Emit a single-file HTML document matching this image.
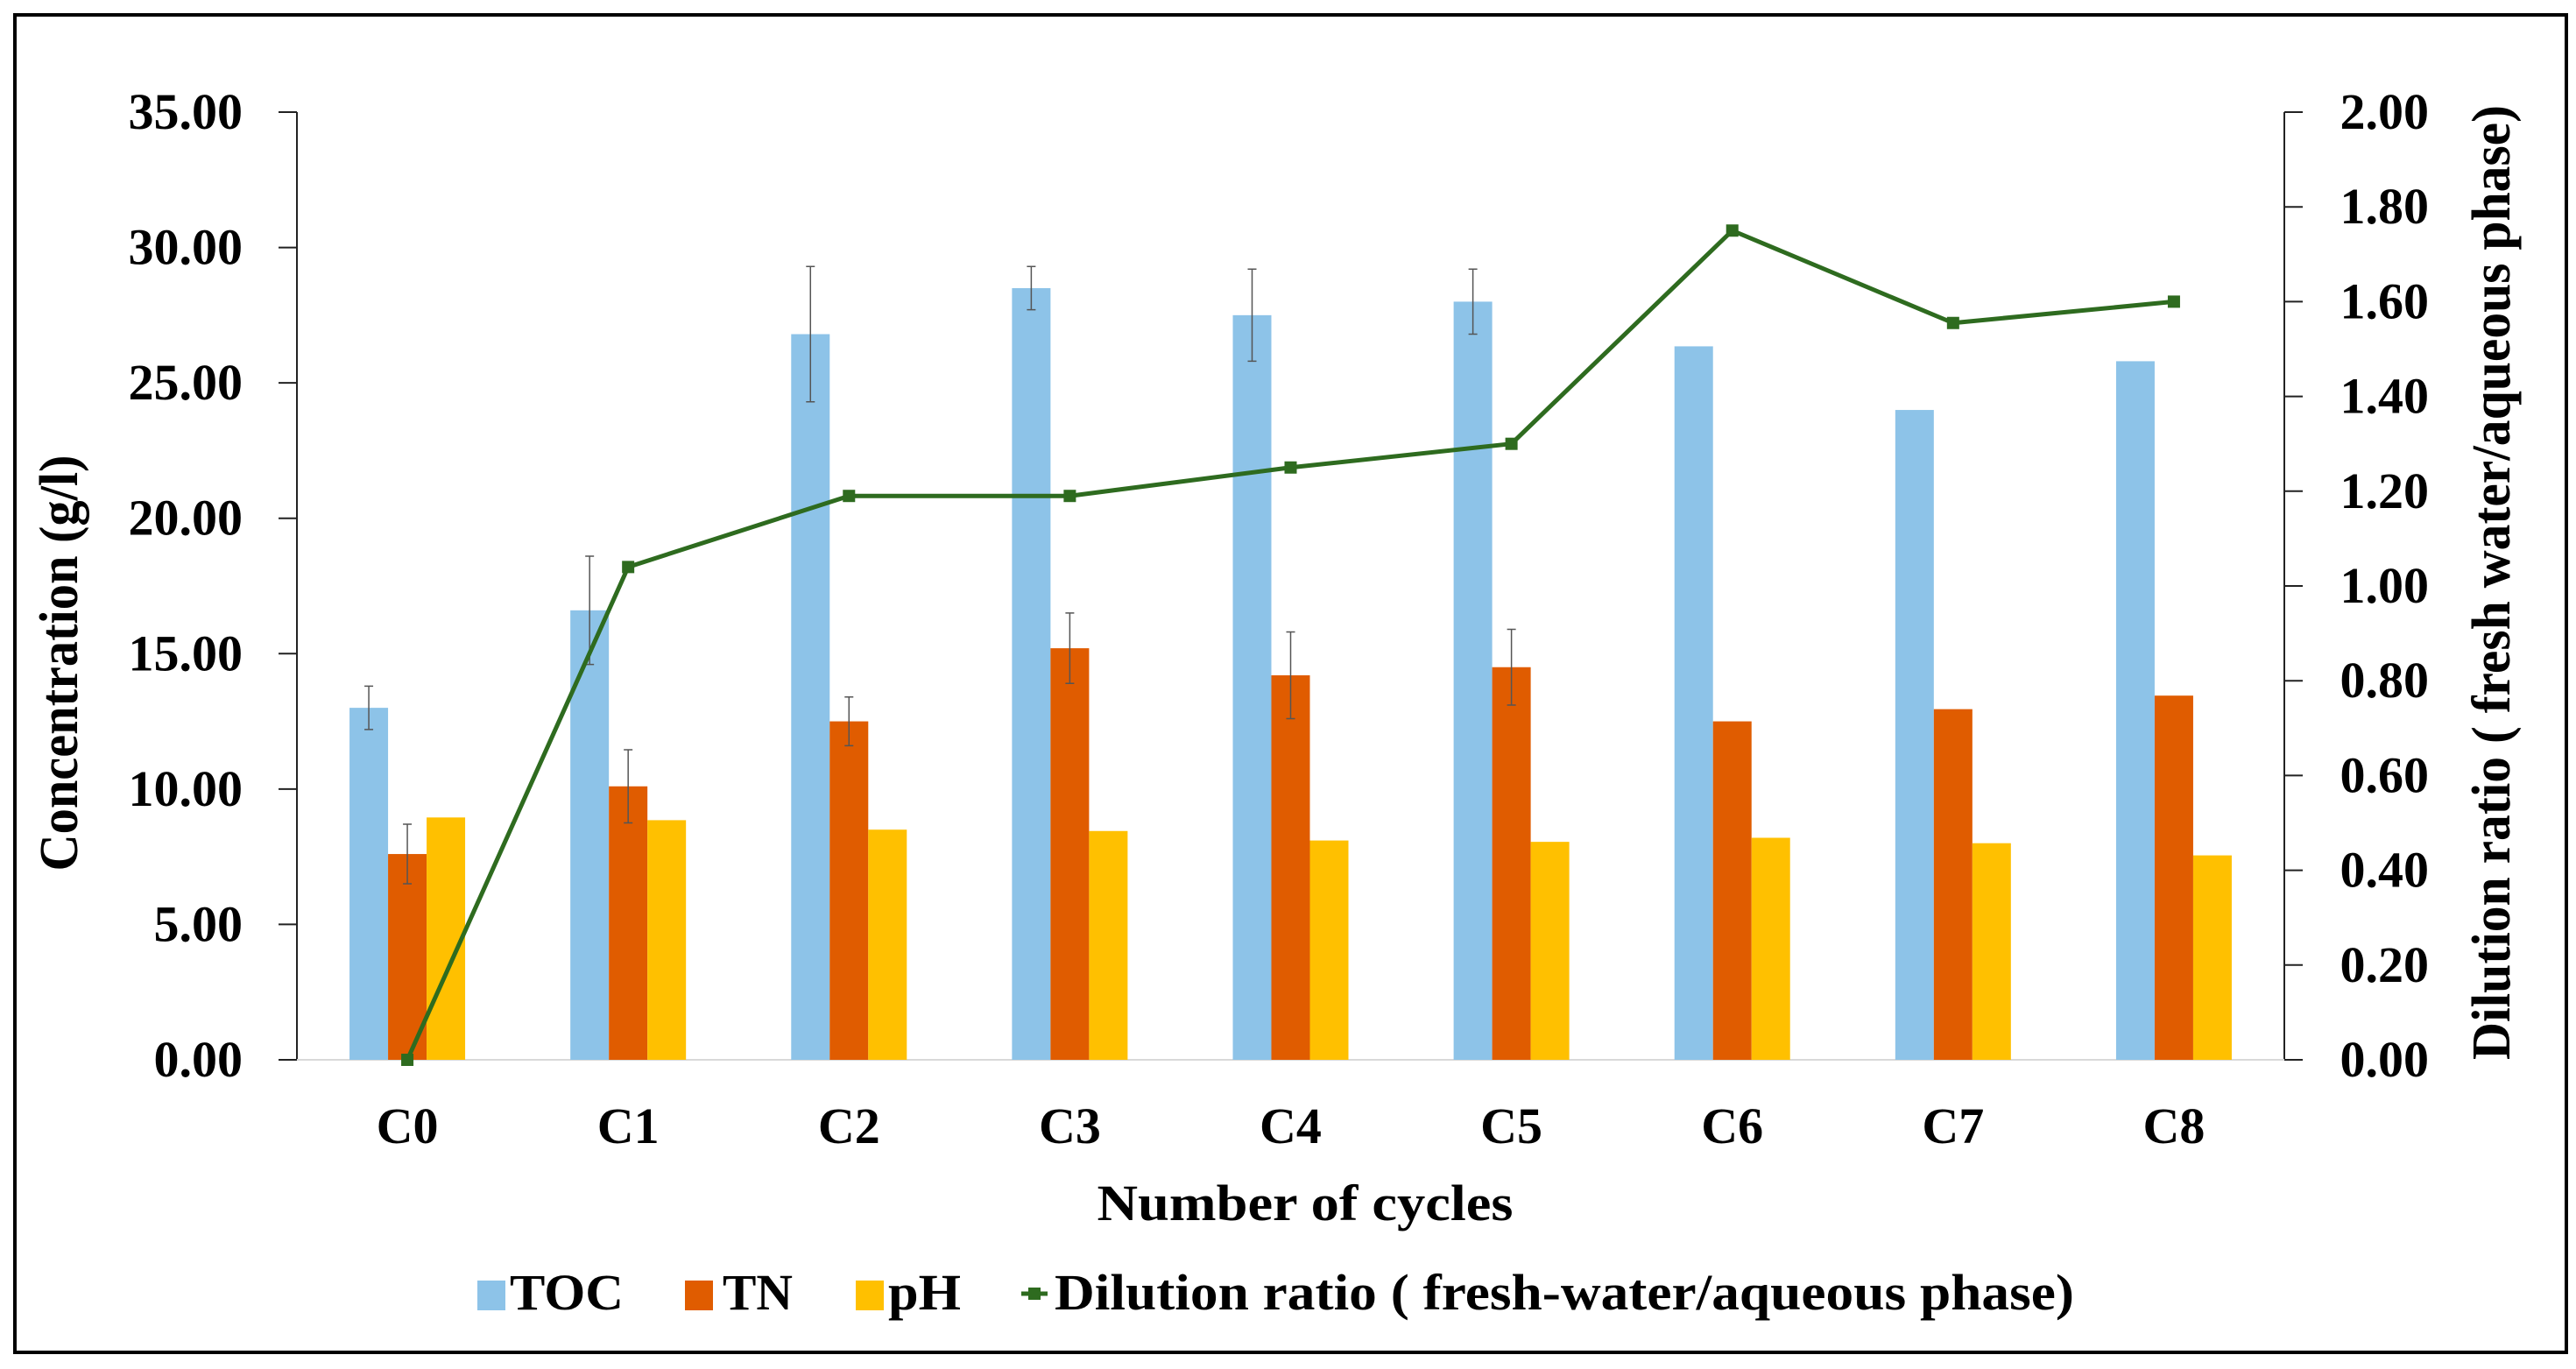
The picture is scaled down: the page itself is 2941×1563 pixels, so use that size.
<!DOCTYPE html>
<html><head><meta charset="utf-8"><style>
html,body{margin:0;padding:0;background:#fff;}
svg text{font-family:"Liberation Serif",serif;font-weight:bold;fill:#000;}
</style></head><body>
<svg id="chart" width="2941" height="1558" viewBox="0 0 2941 1558" xmlns="http://www.w3.org/2000/svg">
<rect x="17" y="17" width="2913" height="1527" fill="#fff" stroke="#000" stroke-width="4"/>
<g id="plot"></g>
<text transform="translate(88,757) rotate(-90)" text-anchor="middle" font-size="62" textLength="475" lengthAdjust="spacingAndGlyphs">Concentration (g/l)</text>
<text transform="translate(2865,665) rotate(-90)" text-anchor="middle" font-size="62" textLength="1090" lengthAdjust="spacingAndGlyphs">Dilution ratio ( fresh water/aqueous phase)</text>
<text x="1490" y="1393" text-anchor="middle" font-size="58" textLength="475" lengthAdjust="spacingAndGlyphs">Number of cycles</text>
<g>
<rect x="545" y="1462" width="32" height="34" fill="#8dc3e8"/>
<text x="582" y="1495" font-size="58" textLength="130" lengthAdjust="spacingAndGlyphs">TOC</text>
<rect x="782" y="1462" width="32" height="34" fill="#e05c00"/>
<text x="825" y="1495" font-size="58" textLength="80" lengthAdjust="spacingAndGlyphs">TN</text>
<rect x="977" y="1462" width="32" height="34" fill="#ffc000"/>
<text x="1014" y="1495" font-size="58" textLength="83" lengthAdjust="spacingAndGlyphs">pH</text>
<line x1="1166" y1="1477" x2="1196" y2="1477" stroke="#2e6b1f" stroke-width="5"/>
<rect x="1174" y="1470" width="14" height="14" fill="#2e6b1f"/>
<text x="1204" y="1495" font-size="58" textLength="1164" lengthAdjust="spacingAndGlyphs">Dilution ratio ( fresh-water/aqueous phase)</text>
</g>
</svg>
<script>
const categories = ["C0","C1","C2","C3","C4","C5","C6","C7","C8"];
const tocValues = [13.0, 16.6, 26.8, 28.5, 27.5, 28.0, 26.35, 24.0, 25.8];
const tocErrors = [0.8, 2.0, 2.5, 0.8, 1.7, 1.2, 0, 0, 0];
const tnValues = [7.6, 10.1, 12.5, 15.2, 14.2, 14.5, 12.5, 12.95, 13.45];
const tnErrors = [1.1, 1.35, 0.9, 1.3, 1.6, 1.4, 0, 0, 0];
const phValues = [8.95, 8.85, 8.5, 8.45, 8.1, 8.05, 8.2, 8.0, 7.55];
const dilutionValues = [0, 1.04, 1.19, 1.19, 1.25, 1.30, 1.75, 1.555, 1.60];
const leftTicks = [0, 5, 10, 15, 20, 25, 30, 35];
const rightTicks = [0, 0.2, 0.4, 0.6, 0.8, 1.0, 1.2, 1.4, 1.6, 1.8, 2.0];

const NS = "http://www.w3.org/2000/svg";
const L = 339, R = 2608, T = 128, B = 1210;
const yL = v => B - (v / 35) * (B - T);
const yR = v => B - (v / 2) * (B - T);
const band = (R - L) / categories.length;
const xC = i => L + band * (i + 0.5);
const barW = 44;
const g = document.getElementById('plot');
function mk(tag, attrs, parent) {
  const e = document.createElementNS(NS, tag);
  for (const k in attrs) e.setAttribute(k, attrs[k]);
  (parent || g).appendChild(e);
  return e;
}
let e = mk('line', {x1: L, y1: T, x2: L, y2: B, stroke: '#222', 'stroke-width': 2});


e = mk('line', {x1: R, y1: T, x2: R, y2: B, stroke: '#222', 'stroke-width': 2});


e = mk('line', {x1: L, y1: B, x2: R, y2: B, stroke: '#d9d9d9', 'stroke-width': 2});


leftTicks.forEach(v => {
  const y = yL(v);
  let t = mk('line', {x1: L - 21, y1: y, x2: L, y2: y, stroke: '#222', 'stroke-width': 2});
  
  
  t = mk('text', {x: 277, y: y + 19, 'text-anchor': 'end', 'font-size': 58});
  t.textContent = v.toFixed(2);
  
  
});
rightTicks.forEach(v => {
  const y = yR(v);
  let t = mk('line', {x1: R, y1: y, x2: R + 21, y2: y, stroke: '#222', 'stroke-width': 2});
  
  
  t = mk('text', {x: 2773, y: y + 19, 'text-anchor': 'end', 'font-size': 58});
  t.textContent = v.toFixed(2);
  
  
});
const series = [
  {vals: tocValues, err: tocErrors, color: '#8dc3e8', name: 'toc'},
  {vals: tnValues, err: tnErrors, color: '#e05c00', name: 'tn'},
  {vals: phValues, err: null, color: '#ffc000', name: 'ph'}
];
categories.forEach((c, i) => {
  series.forEach((s, k) => {
    const x = xC(i) + (k - 1.5) * barW;
    const y = yL(s.vals[i]);
    const b = mk('rect', {x: x, y: y, width: barW, height: B - y, fill: s.color});
    
    
    if (s.err && s.err[i] > 0) {
      const cx = x + barW / 2, y1 = yL(s.vals[i] + s.err[i]), y2 = yL(s.vals[i] - s.err[i]);
      const eb = mk('path', {d: `M${cx},${y1}V${y2}M${cx-5},${y1}H${cx+5}M${cx-5},${y2}H${cx+5}`, stroke: '#555', 'stroke-width': 1.5, fill: 'none'});
      
      
    }
  });
  const t = mk('text', {x: xC(i), y: 1305, 'text-anchor': 'middle', 'font-size': 58});
  t.textContent = c;
  
  
});
const pts = dilutionValues.map((v, i) => xC(i) + ',' + yR(v)).join(' ');
const ln = mk('polyline', {points: pts, fill: 'none', stroke: '#2e6b1f', 'stroke-width': 5, 'stroke-linejoin': 'round'});


dilutionValues.forEach((v, i) => {
  const m = mk('rect', {x: xC(i) - 7, y: yR(v) - 7, width: 14, height: 14, fill: '#2e6b1f'});
  
  
});
</script>
</body></html>
